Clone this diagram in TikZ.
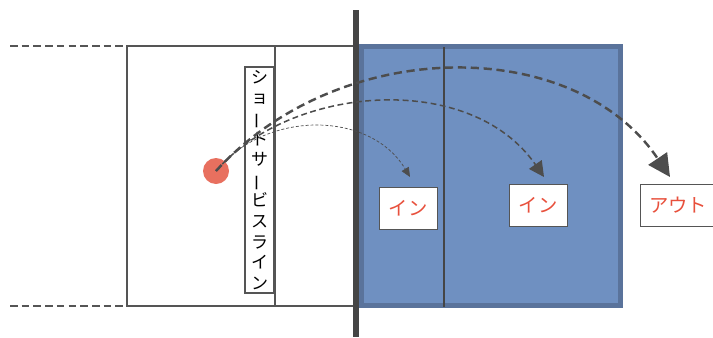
\documentclass[tikz,border=0pt]{standalone}
\usepackage{fontspec}
\usepackage{graphicx}
\newfontfamily\jp{Noto Sans CJK JP}
\usetikzlibrary{arrows.meta}
\definecolor{courtline}{HTML}{555555}
\definecolor{netgray}{HTML}{454545}
\definecolor{courtblue}{HTML}{6F90C1}
\definecolor{courtedge}{HTML}{5A739B}
\definecolor{ballred}{HTML}{E8705F}
\definecolor{callred}{HTML}{E8503C}
\definecolor{pathgray}{HTML}{4D4D4D}
\newcommand\tatebar{\rotatebox[origin=c]{90}{ー}}

\begin{document}
\begin{tikzpicture}[x=0.03cm,y=-0.03cm,
  court/.style={draw=courtline,line width=1.3pt},
  callbox/.style={draw=courtline,fill=white,line width=0.8pt,text=callred,
    font=\jp\fontsize{16.5}{16.5}\selectfont,minimum height=1.26cm,inner sep=0pt},
  shot/.style={draw=pathgray}]
\useasboundingbox (0,0) rectangle (713,337);
% own side of the court
\draw[court,dash pattern=on 6.5pt off 3.5pt] (10,46) -- (127,46);
\draw[court,dash pattern=on 6.5pt off 3.5pt] (10,306) -- (127,306);
\draw[court] (127,46) rectangle (355,306);
\draw[court] (275,46) -- (275,306);
\node[draw=courtline,line width=1.1pt,fill=white,minimum width=0.87cm,minimum height=6.78cm,
  inner sep=0pt,align=center,font=\jp\fontsize{14.5}{17.6}\selectfont] (sline) at (259.5,180)
  {シ\\ョ\\\tatebar\\ト\\サ\\\tatebar\\ビ\\ス\\ラ\\イ\\ン};
% other side
\draw[draw=courtedge,fill=courtblue,line width=4.3pt] (361.5,46.5) rectangle (620.5,305.5);
\draw[netgray,line width=2.5pt] (444,47) -- (444,307);
\draw[netgray,line width=5pt] (356,10) -- (356,337);
% shuttle and calls
\node[circle,fill=ballred,minimum size=0.78cm,inner sep=0pt] (ball) at (216,171) {};
\node[callbox,minimum width=1.74cm] (in1) at (408,208) {イン};
\node[callbox,minimum width=1.74cm] (in2) at (538,205.5) {イン};
\node[callbox,minimum width=2.28cm] (out) at (678,205) {アウト};
\coordinate (t1) at (410,177);
\coordinate (t2) at (544,177);
\coordinate (t3) at (670,177);
\draw[shot,line width=0.6pt,dash pattern=on 2.5pt off 1.7pt,-{Triangle[length=8pt,width=7pt]}]
  (ball.center) .. controls (265,110) and (370,110) .. (t1);
\draw[shot,line width=1.3pt,dash pattern=on 5pt off 3pt,-{Triangle[length=13pt,width=13pt]}]
  (ball.center) .. controls (290,85) and (470,70) .. (t2);
\draw[shot,line width=2.1pt,dash pattern=on 7pt off 4pt,-{Triangle[length=19pt,width=19pt]}]
  (ball.center) .. controls (340,35) and (575,35) .. (t3);
\end{tikzpicture}
\end{document}
